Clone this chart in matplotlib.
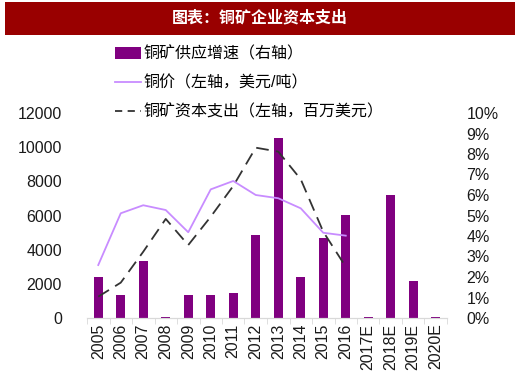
import matplotlib
matplotlib.use("Agg")
import matplotlib.pyplot as plt
from matplotlib.patches import Rectangle, Patch
from matplotlib.lines import Line2D
import numpy as np

plt.rcParams['font.family'] = ['Liberation Sans', 'Noto Sans CJK SC', 'DejaVu Sans']

years = ["2005", "2006", "2007", "2008", "2009", "2010", "2011", "2012",
         "2013", "2014", "2015", "2016", "2017E", "2018E", "2019E", "2020E"]
supply_growth = [2.0, 1.1, 2.8, 0.05, 1.1, 1.1, 1.23, 4.05,
                 8.8, 2.0, 3.92, 5.02, 0.05, 5.98, 1.8, 0.05]
copper_price = [3100, 6130, 6600, 6320, 5020, 7530, 8020, 7200,
                7010, 6420, 4990, 4820]
capex = [1250, 2070, 3880, 5800, 4270, 5930, 7730, 9970,
         9740, 8120, 5050, 3000]

title = "图表：铜矿企业资本支出"
legend_labels = ["铜矿供应增速（右轴）", "铜价（左轴，美元/吨）", "铜矿资本支出（左轴，百万美元）"]

bar_color = "#800080"
price_color = "#C88CFF"
capex_color = "#333333"

fig = plt.figure(figsize=(5.2, 3.86), dpi=100)

# title banner
fig.patches.append(Rectangle((5 / 520, 1 - 35 / 386), 510 / 520, 33 / 386,
                             transform=fig.transFigure, facecolor="#990000",
                             edgecolor="none"))
fig.text(0.5, 1 - 18 / 386, title, color="white", fontsize=11.5, fontweight="bold",
         ha="center", va="center")

ax = fig.add_axes([87 / 520, 1 - 318 / 386, 360 / 520, 205 / 386])
ax2 = ax.twinx()
ax.set_zorder(ax2.get_zorder() + 1)
ax.patch.set_visible(False)

x = np.arange(len(years))
ax2.bar(x, supply_growth, width=0.4, color=bar_color, zorder=2)
ax2.set_ylim(0, 10)
ax2.set_yticks(range(0, 11))
ax2.set_yticklabels([f"{v}%" for v in range(0, 11)])

xp = np.arange(len(copper_price))
ax.plot(xp, copper_price, color=price_color, lw=1.3)
ax.plot(xp, capex, color=capex_color, lw=1.3, dashes=(7, 4))
ax.set_ylim(0, 12000)
ax.set_yticks(range(0, 12001, 2000))
ax.set_xlim(-0.5, len(years) - 0.5)
ax.set_xticks(x)
ax.set_xticklabels(years, rotation=90)

for a in (ax, ax2):
    for s in ("top", "left", "right"):
        a.spines[s].set_visible(False)
    a.spines["bottom"].set_color("#D9D9D9")
    a.tick_params(axis="y", length=0, labelsize=11.5, colors="#1a1a1a")
ax.tick_params(axis="y", pad=18)
ax2.tick_params(axis="y", pad=14)
ax.tick_params(axis="x", length=0, labelsize=11.5, colors="#1a1a1a", pad=4)
ax.set_xticks(np.arange(-0.5, len(years)), minor=True)
ax.tick_params(axis="x", which="minor", length=4, color="#D9D9D9", direction="out")
ax2.tick_params(axis="x", length=0)

handles = [Patch(facecolor=bar_color),
           Line2D([], [], color=price_color, lw=1.3),
           Line2D([], [], color=capex_color, lw=1.3, dashes=(4, 3))]
fig.legend(handles, legend_labels, loc="upper left",
           bbox_to_anchor=(112 / 520, 1 - 43 / 386), frameon=False,
           fontsize=11.5, handlelength=1.6, handletextpad=0.2,
           labelspacing=0.85, borderaxespad=0, borderpad=0.2)

fig.savefig("out.png", dpi=100)
